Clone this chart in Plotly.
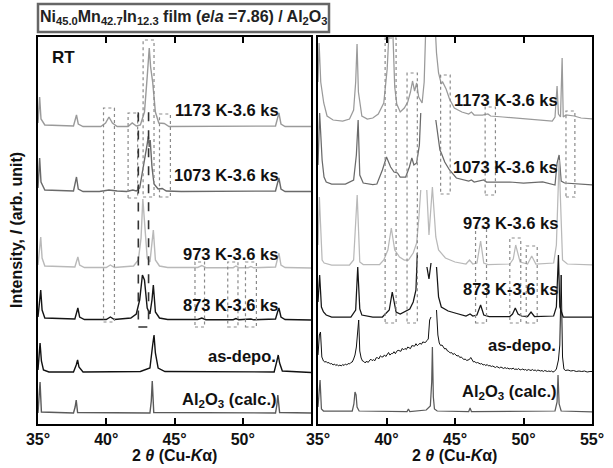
import plotly.graph_objects as go

W, H = 613, 468

# ---------------- LEFT PANEL (full scale) : 2theta (deg) / intensity above own baseline (arb.)
tt_L_1173 = [35.0, 35.05, 35.12, 35.22, 35.5, 37.6, 37.75, 37.82, 37.95, 38.3, 39.6, 39.95, 40.2, 40.45, 40.8, 41.6, 41.9, 42.2, 42.5, 42.8, 43.0, 43.15, 43.25, 43.4, 43.6, 43.85, 44.25, 44.6, 52.4, 52.55, 52.65, 52.8, 53.1, 55.0]
I_L_1173 = [4, 18, 30, 8, 2, 1, 7, 12, 3, 0.5, 0.5, 4, 10, 4, 0.5, 0.5, 4, 1, 2, 15, 50, 79, 60, 45, 15, 4, 3.5, 0.5, 1, 9, 14, 3, 0.5, 0.5]

tt_L_1073 = [35.0, 35.05, 35.12, 35.22, 35.5, 37.6, 37.75, 37.82, 37.95, 38.3, 39.5, 40.2, 40.8, 41.5, 41.95, 42.2, 42.45, 42.65, 42.85, 43.0, 43.08, 43.15, 43.22, 43.35, 43.5, 43.8, 44.1, 44.4, 45.5, 52.4, 52.55, 52.65, 52.8, 53.1, 55.0]
I_L_1073 = [4, 20, 34, 10, 2, 1, 9, 15, 3, 0.5, 0.5, 2, 1, 0.5, 2, 1, 4, 20, 33, 48, 56, 45, 52, 25, 8, 3, 3.5, 1, 0.5, 1, 9, 14, 3, 0.5, 0.5]

tt_L_973 = [35.0, 35.1, 35.2, 35.3, 35.5, 37.7, 37.85, 37.92, 38.05, 38.4, 40.0, 40.3, 40.6, 42.0, 42.35, 42.55, 42.68, 42.8, 43.0, 43.2, 43.35, 43.45, 43.6, 43.9, 44.5, 46.7, 47.0, 47.3, 49.3, 49.5, 49.7, 50.4, 50.6, 50.8, 52.4, 52.55, 52.65, 52.8, 53.1, 55.0]
I_L_973 = [3, 16, 31, 10, 2, 1, 7, 11, 3, 0.5, 0.5, 3, 0.5, 2, 8, 30, 69, 45, 10, 6, 22, 38, 8, 2, 0.5, 0.5, 2.5, 0.3, 0.3, 2, 0.3, 0.3, 1.5, 0.2, 1, 10, 15, 3, 0.5, 0]

tt_L_873 = [35.0, 35.1, 35.2, 35.3, 35.5, 37.7, 37.85, 37.92, 38.05, 38.4, 40.0, 40.3, 40.6, 41.8, 42.2, 42.45, 42.65, 42.8, 43.0, 43.2, 43.35, 43.45, 43.6, 43.9, 44.5, 46.7, 47.0, 47.3, 49.3, 49.5, 49.7, 50.4, 50.6, 50.8, 52.4, 52.55, 52.65, 52.8, 53.1, 55.0]
I_L_873 = [3, 15, 30, 10, 2, 1, 8, 12, 3, 0.5, 0.5, 3, 0.5, 2, 6, 20, 45, 40, 12, 6, 20, 35, 8, 2, 0.5, 0.5, 2, 0.3, 0.3, 1.5, 0.3, 0.3, 1, 0.2, 1, 8, 12, 3, 0.5, 0]

tt_L_asdepo = [35.0, 35.08, 35.15, 35.25, 35.4, 35.8, 37.6, 37.8, 37.9, 38.0, 38.3, 42.5, 43.2, 43.4, 43.5, 43.6, 43.8, 44.3, 52.3, 52.5, 52.6, 52.7, 52.9, 55.0]
I_L_asdepo = [3, 18, 30, 12, 3, 1, 1, 8, 13, 6, 1, 1.5, 5, 28, 38, 20, 5, 1.5, 1, 12, 18, 10, 2, 0.5]

tt_L_al2o3 = [35.0, 35.08, 35.15, 35.25, 37.6, 37.72, 37.8, 37.9, 43.2, 43.3, 43.37, 43.48, 52.4, 52.5, 52.57, 52.7, 55.0]
I_L_al2o3 = [0, 20, 31, 1, 0, 6, 13, 0.5, 0, 12, 32, 0.5, 0, 8, 18, 0.5, 0]

# ---------------- RIGHT PANEL (magnified, peaks cut)
tt_R_1173 = [35.0, 35.08, 35.2, 35.42, 35.66, 36.1, 36.8, 37.3, 37.6, 37.75, 37.85, 37.95, 38.2, 38.6, 39.0, 39.4, 39.8, 40.05, 40.2, 40.45, 40.6, 40.75, 41.0, 41.3, 41.55, 41.75, 41.9, 42.05, 42.2, 42.35, 42.6, 42.75, 42.9, 43.5, 43.65, 43.8, 44.0, 44.1, 44.35, 44.6, 44.95, 45.5, 46.0, 46.2, 46.4, 47.0, 47.4, 47.6, 48.5, 49.5, 50.5, 51.5, 52.1, 52.3, 52.45, 52.55, 52.7, 52.82, 52.9, 53.1, 53.7, 54.2, 55.0]
I_R_1173 = [40, 79, 40, 19, 6, 2, 1, 3, 12, 40, 78, 30, 6, 3, 4, 8, 19, 53, 95, 95, 35, 18, 10, 14, 20, 30, 41, 31, 39, 25, 19, 40, 110, 110, 69, 49, 38, 40, 33, 23, 14, 10, 8, 10, 7, 7, 8, 6, 5, 4, 3, 1.5, 1, 5, 36, 8, 5, 64, 5, 7, 6, 4, 3]

tt_R_1073 = [35.0, 35.12, 35.3, 35.44, 35.6, 36.0, 37.0, 37.6, 37.8, 37.93, 38.05, 38.3, 39.0, 39.3, 39.7, 40.0, 40.3, 40.55, 40.8, 41.0, 41.4, 41.67, 41.85, 42.0, 42.2, 42.4, 42.5, 42.55, 43.55, 43.6, 43.9, 44.0, 44.25, 44.6, 45.1, 46.0, 46.2, 46.4, 47.1, 47.3, 48.0, 49.0, 50.0, 51.4, 52.3, 52.45, 52.6, 52.75, 53.0, 54.0, 55.0]
I_R_1073 = [20, 72, 25, 8, 3, 1, 1, 5, 30, 65, 10, 2, 0.5, 1, 15, 28, 18, 13, 12, 8, 8, 18, 27, 20, 22, 40, 72, None, None, 65, 35, 32, 23, 15, 7, 4, 5, 3, 5, 3, 3, 3, 2, 3, 0, 22, 30, 4, 2, 1, 0]

tt_R_973 = [35.0, 35.1, 35.3, 35.45, 36.0, 37.3, 37.6, 37.86, 38.05, 38.3, 39.5, 39.8, 40.1, 40.35, 40.6, 40.95, 41.3, 41.6, 41.95, 42.2, 42.35, 42.5, 42.55, 42.9, 42.94, 43.1, 43.35, 43.6, 43.8, 44.0, 44.3, 45.0, 45.8, 46.06, 46.3, 46.6, 46.87, 47.1, 47.4, 49.0, 49.25, 49.43, 49.55, 49.75, 50.3, 50.6, 50.9, 52.2, 52.4, 52.6, 52.85, 53.2, 55.0]
I_R_973 = [20, 68, 5, 2, 0, 0, 5, 70, 3, 0.5, 0.5, 5, 15, 37, 15, 8, 5, 5, 12, 22, 45, 75, None, None, 75, 30, 78, 28, 15, 12, 7, 3, 1, 5, 1, 2, 24, 2, 0.5, 1, 6, 20, 14, 3, 1, 9, 1, 2, 20, 105, 5, 1, 0]

tt_R_873 = [35.0, 35.12, 35.25, 35.4, 35.6, 36.0, 37.4, 37.75, 37.9, 38.05, 38.2, 39.0, 39.7, 40.2, 40.42, 40.7, 41.0, 41.3, 41.7, 41.95, 42.15, 42.25, 42.3, 42.9, 42.95, 43.1, 43.25, 43.3, 43.6, 43.65, 43.8, 44.0, 44.5, 45.0, 45.8, 46.1, 46.3, 46.6, 46.87, 47.1, 47.5, 49.0, 49.2, 49.4, 49.6, 49.85, 50.3, 50.55, 50.8, 52.2, 52.4, 52.55, 52.65, 52.9, 53.3, 55.0]
I_R_873 = [15, 42, 10, 5, 2, 0, 0, 7, 50, 8, 2, 0, 0, 7, 25, 5, 3, 5, 8, 15, 27, 64, None, None, 50, 38, 54, None, None, 50, 20, 10, 6, 4, 1, 3, 1, 2, 12, 2, 0.5, 0.5, 3, 9, 3, 1, 0.5, 5, 0.5, 1, 10, 62, 10, 0, 0, 0]

tt_R_asdepo = [35.0, 35.1, 35.18, 35.28, 35.4, 35.5, 35.6, 35.7, 35.8, 35.9,
               36.0, 36.1, 36.2, 36.3, 36.4, 36.5, 36.6, 36.7, 36.8, 36.9,
               37.0, 37.1, 37.2, 37.3, 37.4, 37.5, 37.6, 37.7, 37.8, 37.9,
               37.97, 38.05, 38.15, 38.25, 38.35, 38.45,
               38.55, 38.65, 38.75, 38.85, 38.95, 39.05, 39.15, 39.25, 39.35, 39.45,
               39.55, 39.65, 39.75, 39.85, 39.95, 40.05, 40.15, 40.25, 40.35, 40.45,
               40.55, 40.65, 40.75, 40.85, 40.95, 41.05, 41.15, 41.25, 41.35, 41.45,
               41.55, 41.65, 41.75, 41.85, 41.95, 42.05, 42.15, 42.25, 42.35, 42.45,
               42.55, 42.65, 42.75, 42.85, 42.95, 43.05,
               43.15, 43.25, 43.3, 43.6, 43.65, 43.75,
               43.85, 43.95, 44.05, 44.15, 44.25, 44.35, 44.45, 44.55, 44.65, 44.75,
               44.85, 44.95, 45.05, 45.15, 45.25, 45.35, 45.45, 45.55, 45.65, 45.75,
               45.85, 45.95, 46.05, 46.15, 46.25, 46.35, 46.45, 46.55, 46.65, 46.75,
               46.85, 46.95, 47.05, 47.15, 47.25, 47.35, 47.45, 47.55, 47.65, 47.75,
               47.85, 47.95, 48.05, 48.15, 48.25, 48.35, 48.45, 48.55, 48.65, 48.75,
               48.85, 48.95, 49.05, 49.15, 49.25, 49.35, 49.45, 49.55, 49.65, 49.75,
               49.85, 49.95, 50.05, 50.15, 50.25, 50.35, 50.45, 50.55, 50.65, 50.75,
               50.85, 50.95, 51.05, 51.15, 51.25, 51.35, 51.45, 51.55, 51.65, 51.75,
               51.85, 51.95, 52.05, 52.15, 52.25,
               52.4, 52.55, 52.65, 52.75, 52.85, 52.95, 53.05, 53.25, 53.45, 53.65,
               53.85, 54.05, 54.25, 54.45, 54.65, 54.85, 55.0]
I_R_asdepo = [10, 30, 33, 8, 4, 3, 3.5, 2, 2.5, 1,
              1.5, 0, 1, -0.5, 0.5, -1, 0, -1, 0.5, -0.5,
              1, 0, 1.5, 1, 2.5, 3, 6, 10, 18, 30,
              45, 14, 7, 4, 3.5, 2,
              4, 2.5, 4.4, 5.9, 4.4, 5.3, 4.3, 7.3, 7.2, 6.2,
              9.2, 8.1, 8.1, 10.1, 8.5, 10.5, 12.5, 9.9, 11.4, 11.4,
              13.3, 11.3, 13.8, 14.7, 14.2, 13.7, 16.6, 15.1, 16.6, 15.5,
              18, 17.5, 16.4, 19.4, 19.4, 18.8, 21.3, 19.3, 20.7, 21.7,
              20.7, 23.1, 22.6, 22.6, 24.5, 26,
              45, 48, None, None, 55, 30,
              22, 19.5, 20, 17.5, 16, 16.5, 14, 13.5, 12, 12.5,
              10.5, 11.5, 10, 9, 9.5, 7.5, 8, 7, 5.5, 6,
              4.5, 5, 5.5, 7.5, 4.5, 3, 3.5, 2, 2.5, 1.5,
              1, 1.5, 0, 0.5, -0.5, 0.5, -1, -0.5, -1.5, -1,
              -1.5, -2.5, -1.5, -2, -3, -2, -3, -3.5, -2.5, -3.5,
              -3, -4, -3.5, -4, -3, -4.5, -4, -4.5, -3.5, -5,
              -4.5, -4, -5, -4.5, -5.5, -4.5, -5, -5.5, -4.5, -5.5,
              -5, -6, -5, -5.5, -6, -5.5, -6.5, -5.5, -6, -6.5,
              -6, -6.5, -6, -7, -6.5,
              -4, 5, 20, 90, 8, -4, -5.5, -5, -6, -5.5,
              -6.5, -6, -6.5, -6, -7, -6.5, -6.5]

tt_R_al2o3 = [35.0, 35.1, 35.15, 35.25, 35.4, 37.5, 37.62, 37.7, 37.78, 37.85, 38.0, 41.5, 41.6, 41.7, 42.9, 43.2, 43.3, 43.35, 43.42, 43.5, 43.7, 46.0, 46.1, 46.2, 52.3, 52.45, 52.52, 52.6, 52.75, 55.0]
I_R_al2o3 = [5, 25, 32, 3, 1, 1, 8, 20, 17, 5, 1, 0.5, 3, 0.5, 2, 6, 30, 65, 15, 3, 1, 0.5, 4, 0.5, 1, 10, 37, 8, 1, 0]

sample_labels = ["1173 K-3.6 ks", "1073 K-3.6 ks", "973 K-3.6 ks", "873 K-3.6 ks", "as-depo.", "Al<sub>2</sub>O<sub>3</sub> (calc.)"]
tick_vals = [35, 40, 45, 50, 55]
tick_text_left = ["35°", "40°", "45°", "50°", ""]
tick_text_right = ["35°", "40°", "45°", "50°", "55°"]

# vertical stacking offsets (layout)
offsets_left = [297, 232, 156, 104, 51, 11]
offsets_right = [302, 239, 159, 107, 59, 12]
colors = ["#9a9a9a", "#6a6a6a", "#b9b9b9", "#151515", "#111111", "#5a5a5a"]
widths_right = [1.25, 1.25, 1.25, 1.25, 1.0, 1.25]

left = [(tt_L_1173, I_L_1173), (tt_L_1073, I_L_1073), (tt_L_973, I_L_973),
        (tt_L_873, I_L_873), (tt_L_asdepo, I_L_asdepo), (tt_L_al2o3, I_L_al2o3)]
right = [(tt_R_1173, I_R_1173), (tt_R_1073, I_R_1073), (tt_R_973, I_R_973),
         (tt_R_873, I_R_873), (tt_R_asdepo, I_R_asdepo), (tt_R_al2o3, I_R_al2o3)]

fig = go.Figure()
for (tt, ii), off, c in zip(left, offsets_left, colors):
    assert len(tt) == len(ii)
    fig.add_trace(go.Scatter(x=tt, y=[None if v is None else v + off for v in ii],
                             mode="lines", line=dict(color=c, width=1.4),
                             xaxis="x", yaxis="y", hoverinfo="skip"))
for (tt, ii), off, c, lw in zip(right, offsets_right, colors, widths_right):
    assert len(tt) == len(ii), (len(tt), len(ii))
    fig.add_trace(go.Scatter(x=tt, y=[None if v is None else v + off for v in ii],
                             mode="lines", line=dict(color=c, width=lw),
                             xaxis="x2", yaxis="y2", hoverinfo="skip"))

def px(x):
    return x / W

def py(y):
    return 1 - y / H

FONT = "Liberation Sans, Arial, sans-serif"
bold16 = dict(family=FONT, size=16, color="#111", weight="bold")
label_font = dict(family=FONT, size=16.5, color="#111", weight="bold")

ydom = [py(424), py(37)]
axis_common = dict(range=[35, 55], tickvals=tick_vals, ticks="inside", ticklen=6,
                   tickwidth=1.5, tickcolor="black", showline=True, linewidth=2,
                   linecolor="black", mirror="ticks", showgrid=False, zeroline=False,
                   tickfont=bold16, automargin=False)
yaxis_common = dict(range=[0, 387], showticklabels=False, ticks="", showline=True,
                    linewidth=2, linecolor="black", mirror=True, showgrid=False,
                    zeroline=False, domain=ydom, automargin=False)

fig.update_layout(
    width=W, height=H, margin=dict(l=0, r=0, t=0, b=0, pad=0), autosize=False,
    plot_bgcolor="white", paper_bgcolor="white", showlegend=False,
    xaxis=dict(domain=[px(38), px(311)], anchor="y", ticktext=tick_text_left, **axis_common),
    xaxis2=dict(domain=[px(318), px(592)], anchor="y2", ticktext=tick_text_right, **axis_common),
    yaxis=dict(anchor="x", **yaxis_common),
    yaxis2=dict(anchor="x2", **yaxis_common),
)

# dotted boxes (2theta range, y range in axis units)
boxes_left = [(39.8, 40.6, 102, 316), (41.6, 42.3, 226, 311), (42.7, 43.5, 227, 384),
              (43.9, 44.7, 227, 310), (46.5, 47.2, 97, 162), (48.9, 49.65, 97, 162),
              (50.2, 51.0, 97, 162)]
boxes_right = [(39.9, 40.7, 101, 386), (41.5, 42.25, 101, 351), (43.95, 44.65, 230, 349),
               (47.2, 47.95, 229, 317), (53.1, 53.75, 227, 313), (46.5, 47.3, 101, 196),
               (49.0, 49.8, 101, 186), (50.2, 51.0, 101, 178)]
for x0, x1, y0, y1 in boxes_left:
    fig.add_shape(type="rect", xref="x", yref="y", x0=x0, x1=x1, y0=y0, y1=y1,
                  line=dict(color="#8a8a8a", width=1.2, dash="dot"), layer="above")
for x0, x1, y0, y1 in boxes_right:
    fig.add_shape(type="rect", xref="x2", yref="y2", x0=x0, x1=x1, y0=y0, y1=y1,
                  line=dict(color="#8a8a8a", width=1.2, dash="dot"), layer="above")
# dashed box (left panel)
fig.add_shape(type="rect", xref="x", yref="y", x0=42.35, x1=43.1, y0=97, y1=311,
              line=dict(color="#333", width=1.6, dash="dash"), layer="above")

# title box
fig.add_shape(type="rect", xref="paper", yref="paper", x0=px(38), x1=px(329),
              y0=py(32), y1=py(4), line=dict(color="#666", width=2.5), fillcolor="white")
fig.add_annotation(xref="paper", yref="paper", x=px(184), y=py(18), showarrow=False,
                   text="Ni<sub>45.0</sub>Mn<sub>42.7</sub>In<sub>12.3</sub> film (<i>e</i>/<i>a</i> =7.86) / Al<sub>2</sub>O<sub>3</sub>",
                   font=dict(family=FONT, size=16, color="#222", weight="bold"),
                   xanchor="center", yanchor="middle")

# sample labels
label_pos_left = [(281, 110), (281, 175), (280, 254), (280, 305), (278, 356), (278, 400)]
label_pos_right = [(560, 100), (560, 167), (560, 223), (560, 289), (558, 345), (558, 392)]
for txt, (x, y) in zip(sample_labels, label_pos_left):
    fig.add_annotation(xref="paper", yref="paper", x=px(x), y=py(y), text=txt,
                       showarrow=False, xanchor="right", yanchor="middle", font=label_font)
for txt, (x, y) in zip(sample_labels, label_pos_right):
    fig.add_annotation(xref="paper", yref="paper", x=px(x), y=py(y), text=txt,
                       showarrow=False, xanchor="right", yanchor="middle", font=label_font)

fig.add_annotation(xref="paper", yref="paper", x=px(50), y=py(57), text="RT",
                   showarrow=False, xanchor="left", yanchor="middle",
                   font=dict(family=FONT, size=17, color="#111", weight="bold"))
fig.add_annotation(xref="paper", yref="paper", x=px(16), y=py(230),
                   text="Intensity, <i>I</i> (arb. unit)", textangle=-90, showarrow=False,
                   xanchor="center", yanchor="middle", font=bold16)
for xc in (174, 455):
    fig.add_annotation(xref="paper", yref="paper", x=px(xc), y=py(455),
                       text="2 <i>θ</i> (Cu-<i>K</i>α)", showarrow=False,
                       xanchor="center", yanchor="middle", font=bold16)

fig.write_html("out.html", config={"displayModeBar": False},
               post_script="document.body.style.margin='0px';")
